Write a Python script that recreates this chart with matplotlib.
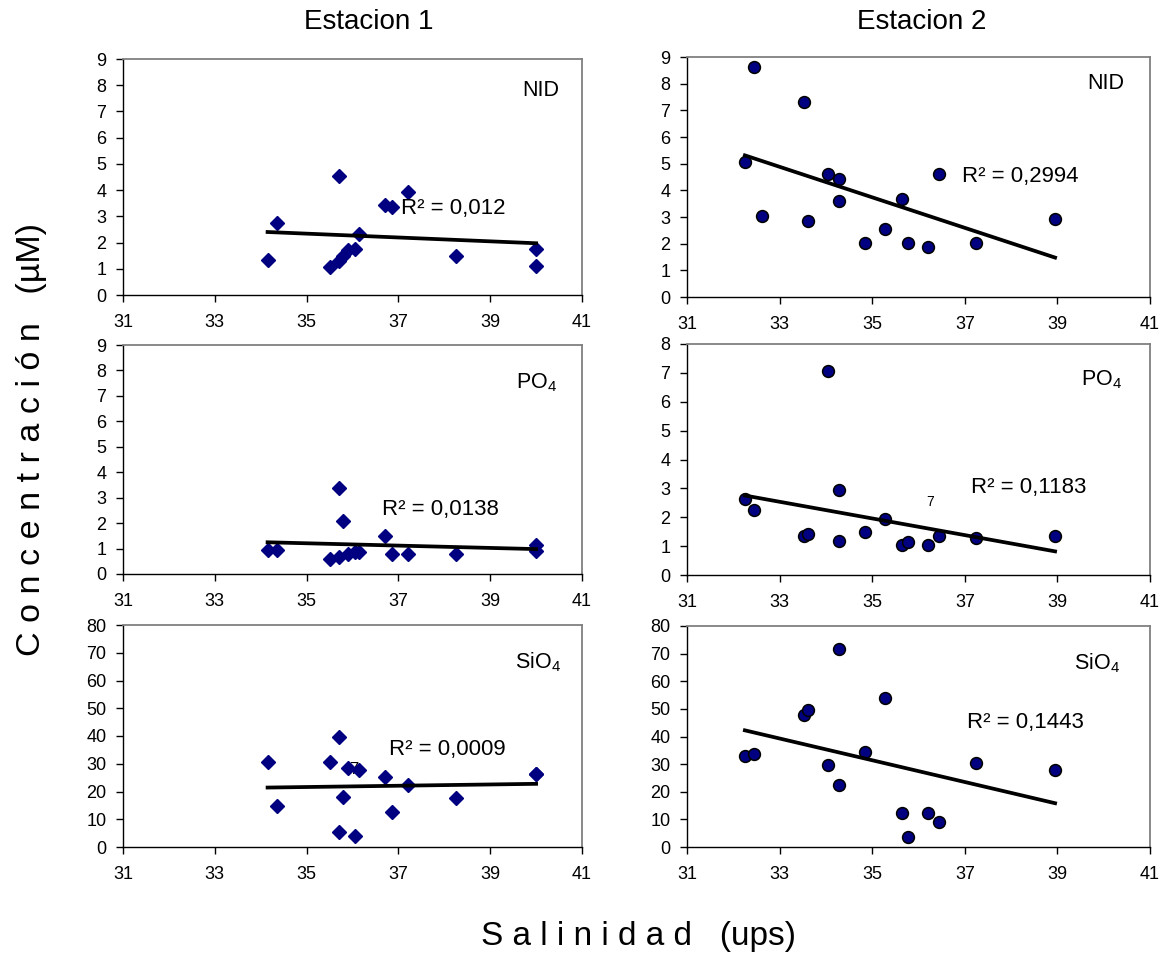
import numpy as np
import matplotlib
matplotlib.use("Agg")
import matplotlib.pyplot as plt

plt.rcParams["font.family"] = ["Liberation Sans", "DejaVu Sans"]
plt.rcParams["mathtext.fontset"] = "custom"
plt.rcParams["mathtext.rm"] = "Liberation Sans"
plt.rcParams["mathtext.it"] = "Liberation Sans"

nan = np.nan

# Estacion 1
sal1 = [34.15, 34.35, 35.5, 35.7, 35.7, 35.8, 35.9, 36.05, 36.15, 36.7, 36.85, 37.2, 38.25, 40.0, 40.0]
nid1 = [1.35, 2.76, 1.05, 4.54, 1.3, 1.5, 1.7, 1.76, 2.33, 3.45, 3.36, 3.94, 1.5, 1.76, 1.09]
po4_1 = [0.95, 0.95, 0.6, 3.38, 0.68, 2.07, 0.78, 0.85, 0.88, 1.5, 0.78, 0.78, 0.78, 1.15, 0.92]
sio4_1 = [30.8, 14.9, 30.6, 39.5, 5.4, 18.1, 28.4, 3.9, 27.6, 25.4, 12.7, 22.4, 17.5, 26.2, 26.2]

# Estacion 2
sal2 = [32.25, 32.44, 32.63, 33.52, 33.62, 34.05, 34.28, 34.28, 34.84, 35.27, 35.65, 35.78, 36.21, 36.45, 37.24, 38.95]
nid2 = [5.08, 8.63, 3.02, 7.3, 2.86, 4.6, 4.43, 3.61, 2.04, 2.54, 3.68, 2.04, 1.86, 4.6, 2.04, 2.93]
po4_2 = [2.64, 2.25, nan, 1.34, 1.42, 7.05, 2.95, 1.18, 1.5, 1.94, 1.05, 1.13, 1.03, 1.34, 1.27, 1.34]
sio4_2 = [32.9, 33.6, nan, 47.7, 49.5, 29.6, 71.5, 22.6, 34.4, 54.1, 12.3, 3.6, 12.3, 9.1, 30.5, 28.0]

r2_labels = [["R\u00b2 = 0,012", "R\u00b2 = 0,2994"],
             ["R\u00b2 = 0,0138", "R\u00b2 = 0,1183"],
             ["R\u00b2 = 0,0009", "R\u00b2 = 0,1443"]]
r2_pos = [[(37.05, 3.3), (36.95, 4.53)],
          [(36.65, 2.55), (37.14, 3.04)],
          [(36.79, 35.3), (37.05, 44.95)]]
names = ["NID", "PO$_4$", "SiO$_4$"]
name_pos = [[(40.5, 7.8), (40.45, 8.0)],
            [(40.45, 7.5), (40.4, 6.76)],
            [(40.55, 66.5), (40.35, 66.5)]]
ymax = [[9, 9], [9, 8], [80, 80]]
ystep = [1, 1, 10]

station1 = [nid1, po4_1, sio4_1]
station2 = [nid2, po4_2, sio4_2]

fig = plt.figure(figsize=(11.69, 9.60), dpi=100)

# axes boxes in pixels: (left, top, right, bottom)
boxes = [[(123, 59, 582, 295), (687, 57, 1150, 297)],
         [(123, 345, 582, 574), (687, 344, 1150, 575)],
         [(123, 625, 582, 847), (687, 626, 1150, 847)]]
W, H = 1169, 960

for row in range(3):
    for col in range(2):
        l, t, r, b = boxes[row][col]
        ax = fig.add_axes([l / W, 1 - b / H, (r - l) / W, (b - t) / H])
        if col == 0:
            x = np.array(sal1)
            y = np.array(station1[row])
            ax.plot(x, y, "D", color="#000080", ms=7.5, mec="#000080", zorder=3)
        else:
            x = np.array(sal2)
            y = np.array(station2[row])
            ax.plot(x, y, "o", color="#000080", ms=8.5, mec="black", mew=1.1, zorder=3)

        # linear trendline
        ok = ~np.isnan(y)
        k, c = np.polyfit(x[ok], y[ok], 1)
        xx = np.array([x[ok].min(), x[ok].max()])
        ax.plot(xx, k * xx + c, color="black", lw=2.7, zorder=4)

        ax.set_xlim(31, 41)
        ax.set_ylim(0, ymax[row][col])
        ax.set_xticks(np.arange(31, 42, 2))
        ax.set_yticks(np.arange(0, ymax[row][col] + 1, ystep[row]))
        ax.tick_params(direction="out", length=5, width=1, labelsize=13)
        ax.tick_params(axis="x", pad=9)
        ax.tick_params(axis="y", pad=7)
        for s in ["top", "right"]:
            ax.spines[s].set_color("#808080")
            ax.spines[s].set_linewidth(1.3)
        for s in ["left", "bottom"]:
            ax.spines[s].set_color("black")
            ax.spines[s].set_linewidth(1.0)

        tx, ty = r2_pos[row][col]
        ax.text(tx, ty, r2_labels[row][col], fontsize=16, va="center", ha="left", zorder=5)
        nx, ny = name_pos[row][col]
        ax.text(nx, ny, names[row], fontsize=15.5, va="center", ha="right")

        if row == 1 and col == 1:
            ax.text(36.25, 2.52, "7", fontsize=10, ha="center", va="center")
        if row == 2 and col == 0:
            ax.text(36.03, 27.8, "7", fontsize=12, ha="center", va="center", zorder=2)

fig.text(369 / W, 1 - 22 / H, "Estacion 1", fontsize=20, ha="center", va="center")
fig.text(922 / W, 1 - 22 / H, "Estacion 2", fontsize=20, ha="center", va="center")
fig.text(638 / W, 1 - 936 / H, "S a l i n i d a d   (ups)", fontsize=24, ha="center", va="center")
fig.text(32 / W, 1 - 440 / H, "C o n c e n t r a c i \u00f3 n   (\u00b5M)", fontsize=24.5,
         ha="center", va="center", rotation=90)

fig.savefig("out.png", dpi=100)
